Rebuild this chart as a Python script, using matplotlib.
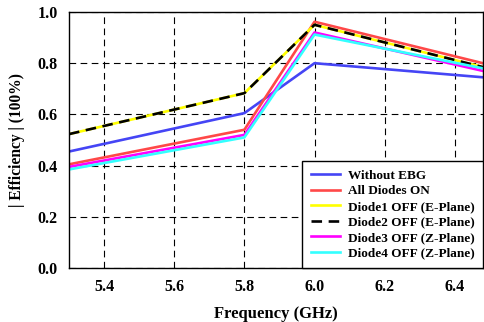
import matplotlib
matplotlib.use("Agg")
import matplotlib.pyplot as plt

plt.rcParams["font.family"] = ["Liberation Serif", "DejaVu Serif"]
plt.rcParams["font.weight"] = "bold"

freq = [5.3, 5.8, 6.0, 6.48]
without_ebg = [0.455, 0.605, 0.80, 0.745]
all_on = [0.405, 0.54, 0.962, 0.80]
diode1_off = [0.523, 0.683, 0.95, 0.785]
diode2_off = [0.523, 0.683, 0.95, 0.785]
diode3_off = [0.395, 0.52, 0.92, 0.77]
diode4_off = [0.385, 0.51, 0.912, 0.78]

fig = plt.figure(figsize=(4.84, 3.22), dpi=100)
ax = fig.add_axes([0.1426, 0.1677, 0.855, 0.795])

lw = 1.9
ax.plot(freq, without_ebg, color="#4545f5", lw=lw, label="Without EBG")
ax.plot(freq, all_on, color="#ff4848", lw=lw, label="All Diodes ON")
ax.plot(freq, diode1_off, color="#ffff00", lw=lw, label="Diode1 OFF (E-Plane)")
ax.plot(freq, diode2_off, color="black", lw=lw, dashes=(4, 2.5), label="Diode2 OFF (E-Plane)")
ax.plot(freq, diode3_off, color="#ff00ff", lw=lw, label="Diode3 OFF (Z-Plane)")
ax.plot(freq, diode4_off, color="#33ffff", lw=lw, label="Diode4 OFF (Z-Plane)")

ax.set_xlim(5.3, 6.48)
ax.set_ylim(0.0, 1.0)
ax.set_xticks([5.4, 5.6, 5.8, 6.0, 6.2, 6.4])
ax.set_yticks([0.0, 0.2, 0.4, 0.6, 0.8, 1.0])
ax.xaxis.set_major_formatter(matplotlib.ticker.FormatStrFormatter("%.1f"))
ax.yaxis.set_major_formatter(matplotlib.ticker.FormatStrFormatter("%.1f"))
ax.tick_params(length=0, labelsize=11.5, pad=8)
for lbl in ax.get_xticklabels() + ax.get_yticklabels():
    lbl.set_fontweight("bold")
ax.grid(True, color="black", lw=0.8, dashes=(6, 4))
for s in ax.spines.values():
    s.set_linewidth(1.0)

ax.set_xlabel("Frequency (GHz)", fontsize=12, fontweight="bold", labelpad=8)
ax.set_ylabel("| Efficiency | (100%)", fontsize=11.2, fontweight="bold", labelpad=9)

leg = ax.legend(loc="lower right", frameon=True, fancybox=False,
                borderaxespad=0, handlelength=2.2, handletextpad=0.6,
                labelspacing=0.25, borderpad=0.65, prop={"weight": "bold", "size": 9.5})
leg.get_frame().set_edgecolor("black")
leg.get_frame().set_linewidth(1.0)
leg.get_frame().set_alpha(1)

fig.savefig("out.png", dpi=100)
